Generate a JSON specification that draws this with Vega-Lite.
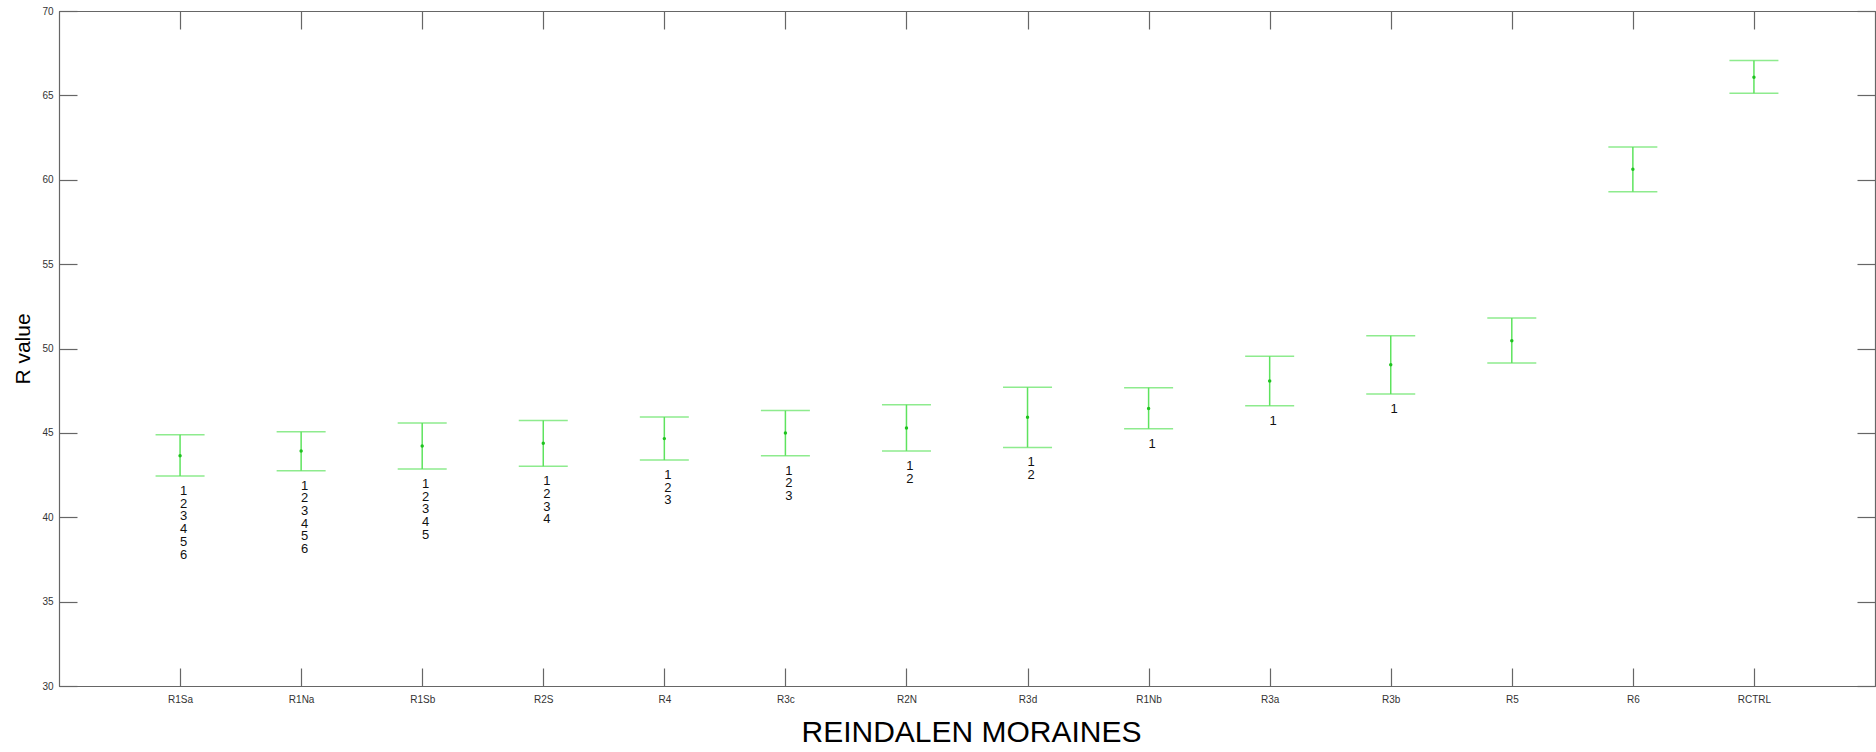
{
  "$schema": "https://vega.github.io/schema/vega-lite/v6.json",
  "autosize": "none",
  "padding": {"left": 59, "top": 11, "right": 1, "bottom": 66},
  "width": 1816,
  "height": 675,
  "background": "white",
  "config": {
    "view": {"stroke": "#666666", "strokeWidth": 1},
    "font": "Liberation Sans",
    "axis": {
      "domainColor": "#666666",
      "domainWidth": 1.2,
      "tickColor": "#666666",
      "tickWidth": 1.2,
      "tickSize": -18,
      "grid": false,
      "labelFont": "Liberation Sans",
      "labelFontSize": 10,
      "labelColor": "#333333",
      "titleFont": "Liberation Sans",
      "titleFontWeight": "normal",
      "titleColor": "#000000"
    }
  },
  "data": {
    "values": [
      {"moraine": "R1Sa", "mean": 43.65, "lower": 42.44, "upper": 44.89, "groups": "1\n2\n3\n4\n5\n6"},
      {"moraine": "R1Na", "mean": 43.93, "lower": 42.76, "upper": 45.07, "groups": "1\n2\n3\n4\n5\n6"},
      {"moraine": "R1Sb", "mean": 44.22, "lower": 42.86, "upper": 45.59, "groups": "1\n2\n3\n4\n5"},
      {"moraine": "R2S", "mean": 44.38, "lower": 43.02, "upper": 45.74, "groups": "1\n2\n3\n4"},
      {"moraine": "R4", "mean": 44.66, "lower": 43.39, "upper": 45.94, "groups": "1\n2\n3"},
      {"moraine": "R3c", "mean": 44.99, "lower": 43.65, "upper": 46.32, "groups": "1\n2\n3"},
      {"moraine": "R2N", "mean": 45.29, "lower": 43.93, "upper": 46.67, "groups": "1\n2"},
      {"moraine": "R3d", "mean": 45.92, "lower": 44.14, "upper": 47.70, "groups": "1\n2"},
      {"moraine": "R1Nb", "mean": 46.45, "lower": 45.25, "upper": 47.68, "groups": "1"},
      {"moraine": "R3a", "mean": 48.07, "lower": 46.61, "upper": 49.54, "groups": "1"},
      {"moraine": "R3b", "mean": 49.04, "lower": 47.30, "upper": 50.76, "groups": "1"},
      {"moraine": "R5", "mean": 50.46, "lower": 49.14, "upper": 51.81, "groups": ""},
      {"moraine": "R6", "mean": 60.62, "lower": 59.29, "upper": 61.94, "groups": ""},
      {"moraine": "RCTRL", "mean": 66.07, "lower": 65.12, "upper": 67.06, "groups": ""}
    ]
  },
  "layer": [
    {
      "mark": {"type": "rule", "color": "#5ee35e", "strokeWidth": 1.5},
      "encoding": {
        "x": {
          "field": "moraine", "type": "nominal", "sort": null,
          "scale": {"type": "point", "padding": 1},
          "axis": {
            "orient": "bottom", "labelAngle": 0, "labelPadding": 26,
            "title": "REINDALEN MORAINES", "titleFontSize": 30,
            "titleX": 912, "titleY": 46, "titleBaseline": "middle", "titleAnchor": null, "titleAlign": "center"
          }
        },
        "y": {
          "field": "lower", "type": "quantitative",
          "scale": {"domain": [30, 70], "nice": false, "zero": false},
          "axis": {
            "orient": "left", "values": [30, 35, 40, 45, 50, 55, 60, 65, 70], "labelPadding": 24,
            "title": "R value", "titleFontSize": 21, "titleAngle": 270,
            "titleX": -36, "titleY": 337.5, "titleBaseline": "middle", "titleAlign": "center"
          }
        },
        "y2": {"field": "upper"}
      }
    },
    {
      "mark": {"type": "tick", "color": "#5ee35e", "thickness": 1.5, "size": 49},
      "encoding": {
        "x": {"field": "moraine", "type": "nominal", "sort": null,
          "axis": {"orient": "top", "labels": false, "title": null}},
        "y": {"field": "upper", "type": "quantitative",
          "axis": {"orient": "right", "labels": false, "title": null, "values": [30, 35, 40, 45, 50, 55, 60, 65, 70]}}
      }
    },
    {
      "mark": {"type": "tick", "color": "#5ee35e", "thickness": 1.5, "size": 49},
      "encoding": {
        "x": {"field": "moraine", "type": "nominal", "sort": null, "axis": null},
        "y": {"field": "lower", "type": "quantitative", "axis": null}
      }
    },
    {
      "mark": {"type": "point", "filled": true, "color": "#1fc21f", "size": 12, "opacity": 1},
      "encoding": {
        "x": {"field": "moraine", "type": "nominal", "sort": null, "axis": null},
        "y": {"field": "mean", "type": "quantitative", "axis": null}
      }
    },
    {
      "mark": {"type": "text", "font": "Liberation Sans", "fontSize": 13, "lineHeight": 12.7, "lineBreak": "\n", "baseline": "top", "align": "center", "dx": 3.5, "dy": 9, "color": "#111111"},
      "encoding": {
        "x": {"field": "moraine", "type": "nominal", "sort": null, "axis": null},
        "y": {"field": "lower", "type": "quantitative", "axis": null},
        "text": {"field": "groups"}
      }
    }
  ]
}
